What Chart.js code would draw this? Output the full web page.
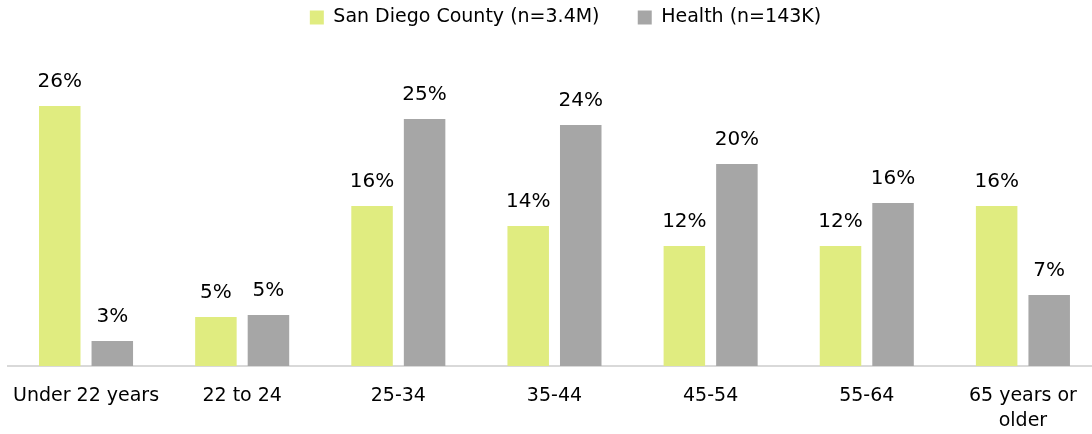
<!DOCTYPE html>
<html lang="en">
<head>
<meta charset="UTF-8">
<title>Age distribution</title>
<style>
  html, body { margin: 0; padding: 0; background: #fff; overflow: hidden; }
  .wrap { width: 1105px; height: 434px; margin-left: -4px; }
</style>
</head>
<body>
<div class="wrap">
  <canvas id="myChart" width="1105" height="434"></canvas>
</div>

<script src="https://cdn.jsdelivr.net/npm/chart.js"></script>
<script>
const ctx = document.getElementById('myChart');

// data (percent)
const categories = ['Under 22 years', '22 to 24', '25-34', '35-44', '45-54', '55-64', ['65 years or', 'older']];
const sanDiego = [26, 4.9, 16, 14, 12, 12, 16];
const health = [2.5, 5.1, 24.7, 24.1, 20.2, 16.3, 7.1];
const seriesNames = ['San Diego County (n=3.4M)', 'Health (n=143K)'];

const fontFamily = "'DejaVu Sans', sans-serif";

// value labels above each bar
const barLabels = {
    id: 'barLabels',
    afterDatasetsDraw(chart) {
        const c = chart.ctx;
        c.save();
        c.font = '20px ' + fontFamily;
        c.fillStyle = '#000';
        c.textAlign = 'center';
        c.textBaseline = 'middle';
        chart.data.datasets.forEach((ds, i) => {
            chart.getDatasetMeta(i).data.forEach((bar, j) => {
                c.fillText(Math.round(ds.data[j]) + '%', bar.x, bar.y - 24);
            });
        });
        c.restore();
    }
};

// legend sits a bit right of centre in the original
const legendShift = {
    id: 'legendShift',
    afterLayout(chart) {
        chart.legend.left += 17;
        chart.legend.right += 17;
    }
};

new Chart(ctx, {
    type: 'bar',
    data: {
        labels: categories,
        datasets: [{
            label: seriesNames[0],
            data: sanDiego,
            backgroundColor: '#e0ec80'
        }, {
            label: seriesNames[1],
            data: health,
            backgroundColor: '#a6a6a6'
        }]
    },
    options: {
        responsive: false,
        animation: false,
        layout: { padding: 0 },
        datasets: {
            bar: { categoryPercentage: 0.673, barPercentage: 0.79 }
        },
        plugins: {
            legend: {
                position: 'top',
                labels: {
                    font: { family: fontFamily, size: 19 },
                    color: '#000',
                    boxWidth: 14,
                    boxHeight: 14,
                    padding: 8,
                    generateLabels(chart) {
                        const items = Chart.defaults.plugins.legend.labels.generateLabels(chart);
                        items[0].text = items[0].text + '     ';
                        return items;
                    }
                }
            },
            tooltip: { enabled: false }
        },
        scales: {
            x: {
                grid: { display: false, drawTicks: false },
                border: { display: true, color: '#d9d9d9', width: 2 },
                ticks: {
                    font: { family: fontFamily, size: 19, lineHeight: 1.35 },
                    color: '#000',
                    padding: 17,
                    maxRotation: 0,
                    autoSkip: false
                },
                afterFit(scale) { scale.height = 68; }
            },
            y: {
                display: false,
                min: 0,
                max: 32.9
            }
        }
    },
    plugins: [barLabels, legendShift]
});
</script>
</body>
</html>
